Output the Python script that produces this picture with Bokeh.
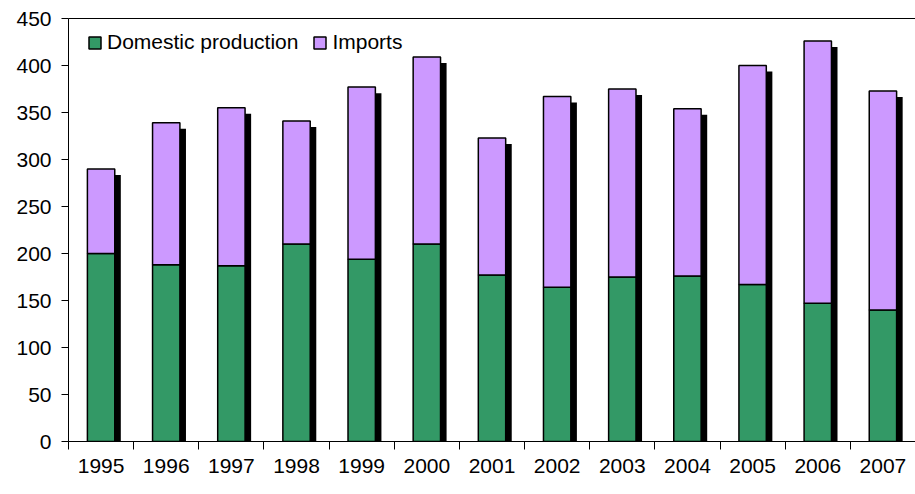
from bokeh.plotting import figure
from bokeh.models import Range1d, LinearAxis, FixedTicker, Legend, LegendItem
from bokeh.embed import file_html
from bokeh.resources import INLINE

years = ["1995", "1996", "1997", "1998", "1999", "2000", "2001",
         "2002", "2003", "2004", "2005", "2006", "2007"]
domestic = [200, 188, 187, 210, 194, 210, 177, 164, 175, 176, 167, 147, 140]
imports = [90, 151, 168, 131, 183, 199, 146, 203, 200, 178, 233, 279, 233]
y_ticks = [0, 50, 100, 150, 200, 250, 300, 350, 400, 450]

GREEN = "#339966"
PURPLE = "#CC99FF"
FONT = "Liberation Sans"

n = len(years)
centers = [i + 0.5 for i in range(n)]
boundaries = list(range(n + 1))
totals = [d + m for d, m in zip(domestic, imports)]

p = figure(width=915, height=494, output_backend="svg", toolbar_location=None,
           x_range=Range1d(0, n), y_range=Range1d(0, 450),
           x_axis_location=None, y_axis_location=None,
           min_border_left=68, min_border_right=0, min_border_top=18,
           min_border_bottom=53)
p.outline_line_color = None
p.xgrid.visible = False
p.ygrid.visible = False
p.background_fill_color = "white"
p.border_fill_color = "white"

# shadow (offset ~6px right / down)
bar_w = 0.42
sh_dx = 0.093
sh_dy = 6.4
p.vbar(x=[c + sh_dx for c in centers], width=bar_w, bottom=0,
       top=[t - sh_dy for t in totals], fill_color="black", line_color=None)

r_dom = p.vbar(x=centers, width=bar_w, bottom=0, top=domestic,
               fill_color=GREEN, line_color="black", line_width=1.5)
r_imp = p.vbar(x=centers, width=bar_w, bottom=domestic, top=totals,
               fill_color=PURPLE, line_color="black", line_width=1.5)

# y axis
yax = LinearAxis(ticker=FixedTicker(ticks=y_ticks))
yax.axis_line_color = "black"
yax.axis_line_width = 1
yax.major_tick_line_color = "black"
yax.major_tick_in = 0
yax.major_tick_out = 7
yax.minor_tick_line_color = None
yax.major_label_standoff = 10
yax.major_label_text_font = FONT
yax.major_label_text_font_size = "21px"
yax.major_label_text_color = "black"
p.add_layout(yax, "left")

# top border line
top = LinearAxis(ticker=FixedTicker(ticks=[]))
top.axis_line_color = "black"
top.major_tick_line_color = None
top.minor_tick_line_color = None
top.major_label_standoff = 0
p.add_layout(top, "above")

# x axis: labels at category centers, tick marks (minor) at boundaries
xax = LinearAxis(ticker=FixedTicker(ticks=centers, minor_ticks=boundaries),
                 major_label_overrides={c: y for c, y in zip(centers, years)})
xax.axis_line_color = "black"
xax.major_tick_line_color = None
xax.major_tick_in = 0
xax.major_tick_out = 8
xax.minor_tick_line_color = "black"
xax.minor_tick_in = 0
xax.minor_tick_out = 8
xax.major_label_standoff = 9
xax.major_label_text_font = FONT
xax.major_label_text_font_size = "21px"
xax.major_label_text_color = "black"
p.add_layout(xax, "below")

legend = Legend(items=[LegendItem(label="Domestic production", renderers=[r_dom]),
                       LegendItem(label="Imports", renderers=[r_imp])],
                location=(19, 387), orientation="horizontal")
legend.border_line_color = None
legend.background_fill_alpha = 0
legend.margin = 0
legend.padding = 8
legend.spacing = 14
legend.glyph_width = 15
legend.glyph_height = 15
legend.label_standoff = 5
legend.label_text_font = FONT
legend.label_text_font_size = "21px"
legend.label_text_color = "black"
p.add_layout(legend)

open("out.html", "w").write(file_html(p, INLINE))
